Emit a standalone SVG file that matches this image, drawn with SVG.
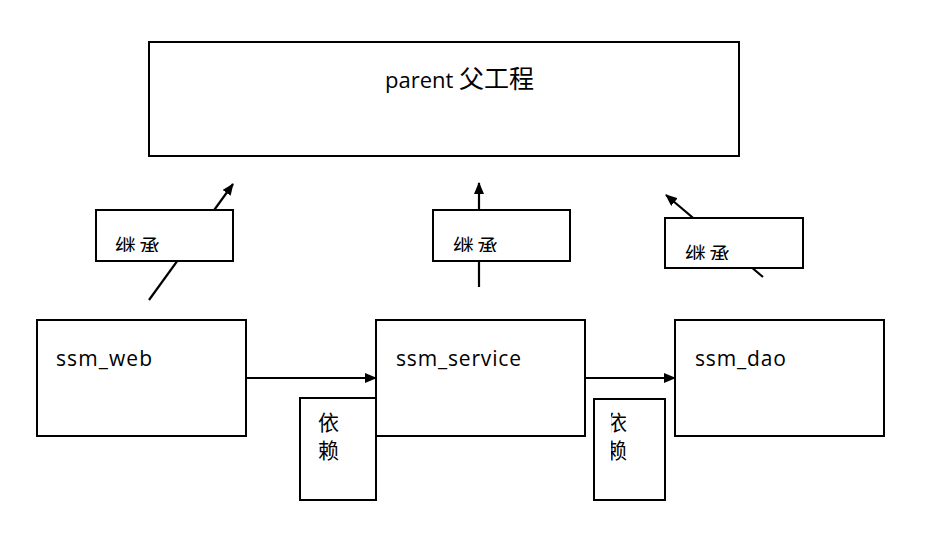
<svg xmlns="http://www.w3.org/2000/svg" width="951" height="537" viewBox="0 0 951 537">
<style>
.box{fill:#fff;stroke:#000;stroke-width:2}
.ln{stroke:#000;stroke-width:2.2;fill:none}
.t{font-family:"Open Sans","Noto Sans CJK SC",sans-serif;font-size:21px;fill:#000}
.c{font-family:"Noto Sans CJK SC",sans-serif;font-size:21px;letter-spacing:3px;fill:#000}
.v{font-family:"Noto Sans CJK SC",sans-serif;font-size:21px;fill:#000}
</style>
<defs>
<marker id="ah" markerWidth="12" markerHeight="10" refX="11" refY="5" orient="auto" markerUnits="userSpaceOnUse">
<path d="M0,0 L12,5 L0,10 Z" fill="#000"/>
</marker>
<clipPath id="cl1"><rect x="96" y="210" width="137" height="42"/></clipPath>
<clipPath id="cl2"><rect x="433" y="210" width="137" height="42"/></clipPath>
<clipPath id="cl3"><rect x="665" y="218" width="138" height="42"/></clipPath>
<clipPath id="cl4"><rect x="611" y="399" width="54" height="101"/></clipPath>
</defs>
<g id="connectors">
<line class="ln" x1="149" y1="300" x2="233" y2="184" marker-end="url(#ah)"/>
<line class="ln" x1="479" y1="287" x2="479" y2="183" marker-end="url(#ah)"/>
<line class="ln" x1="763" y1="277" x2="666" y2="195" marker-end="url(#ah)"/>
<line class="ln" x1="246" y1="378" x2="376" y2="378" marker-end="url(#ah)"/>
<line class="ln" x1="585" y1="378" x2="675" y2="378" marker-end="url(#ah)"/>
</g>
<g id="parent">
<rect class="box" x="149" y="42" width="590" height="114"/>
<text class="t" x="385" y="88" style="font-size:22px">parent <tspan font-family="Noto Sans CJK SC, sans-serif" font-size="25">父工程</tspan></text>
</g>
<g id="label-inherit-1">
<rect class="box" x="96" y="210" width="137" height="51"/>
<text class="c" x="115" y="254" clip-path="url(#cl1)">继承</text>
</g>
<g id="label-inherit-2">
<rect class="box" x="433" y="210" width="137" height="51"/>
<text class="c" x="453" y="254" clip-path="url(#cl2)">继承</text>
</g>
<g id="label-inherit-3">
<rect class="box" x="665" y="218" width="138" height="50"/>
<text class="c" x="685" y="262" clip-path="url(#cl3)">继承</text>
</g>
<g id="ssm_web">
<rect class="box" x="37" y="320" width="209" height="116"/>
<text class="t" x="56" y="366" textLength="96">ssm_web</text>
</g>
<g id="ssm_service">
<rect class="box" x="376" y="320" width="209" height="116"/>
<text class="t" x="396" y="366" textLength="125">ssm_service</text>
</g>
<g id="ssm_dao">
<rect class="box" x="675" y="320" width="209" height="116"/>
<text class="t" x="695" y="366" textLength="91">ssm_dao</text>
</g>
<g id="label-depend-1">
<rect class="box" x="300" y="398" width="76" height="102"/>
<text class="v" x="318" y="430">依<tspan x="318" dy="28">赖</tspan></text>
</g>
<g id="label-depend-2">
<rect class="box" x="594" y="399" width="71" height="101"/>
<text class="v" x="606" y="430" clip-path="url(#cl4)">依<tspan x="606" dy="28">赖</tspan></text>
</g>
</svg>
